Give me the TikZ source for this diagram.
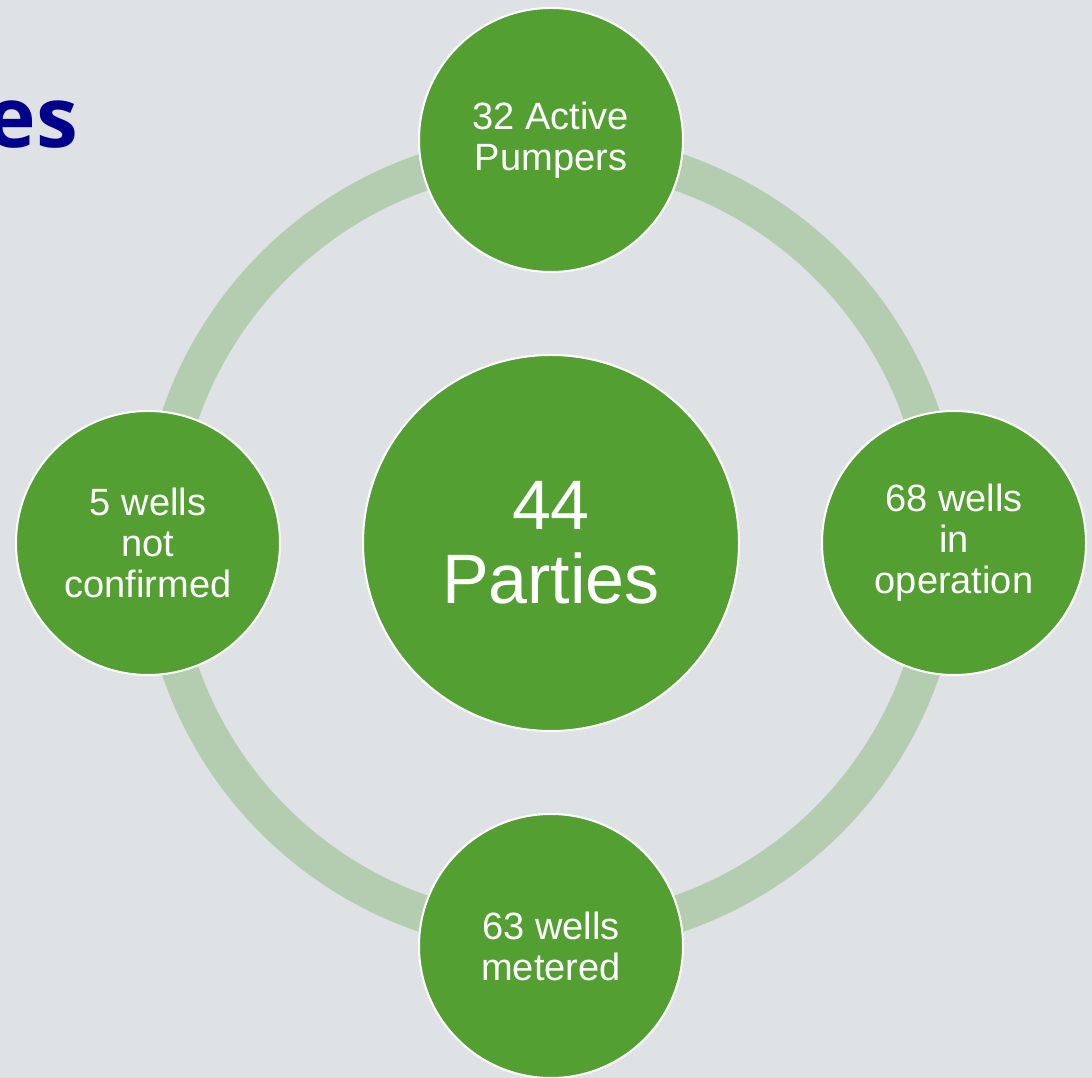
\documentclass[tikz,border=0pt]{standalone}
\usepackage{fontspec}
\setmainfont{Liberation Sans}
\newfontfamily\titlefont{Open Sans}
\usetikzlibrary{positioning}

\definecolor{paper}{RGB}{222,226,229}
\definecolor{leaf}{RGB}{83,159,50}
\definecolor{halo}{RGB}{180,205,177}
\definecolor{navy}{RGB}{0,0,139}

\tikzset{
  bubble/.style = {circle, fill=leaf, draw=white, line width=2pt, text=white,
                   align=center, inner sep=0pt, minimum size=264pt,
                   font=\fontsize{38}{41}\selectfont},
  bigbubble/.style = {bubble, minimum size=376pt, font=\fontsize{70}{74}\selectfont},
  ring/.style = {draw=halo, line width=37pt},
  heading/.style = {text=navy, inner sep=0pt, font=\titlefont\bfseries\fontsize{84}{90}\selectfont}
}

\begin{document}
\begin{tikzpicture} [x=1pt, y=1pt, node distance = 403pt, on grid]
   \useasboundingbox (0,0) rectangle (1092,1078);
   \clip (0,0) rectangle (1092,1078);
   \fill[paper] (0,0) rectangle (1092,1078);

   % cut-off slide title
   \node (title)[heading, anchor=base east] at (78,930) {es};

   % ring behind the bubbles
   \coordinate (mid) at (551,535);
   \draw[ring] (mid) circle [radius=392];

   \node (hub)[bigbubble] at (mid) {44\\Parties};
   \node (pumpers)[bubble, above = of hub] {32 Active\\Pumpers};
   \node (operation)[bubble, right = of hub] {68 wells\\in\\operation};
   \node (metered)[bubble, below = of hub] {63 wells\\metered};
   \node (unconfirmed)[bubble, left = of hub] {5 wells\\not\\confirmed};

\end{tikzpicture}
\end{document}
